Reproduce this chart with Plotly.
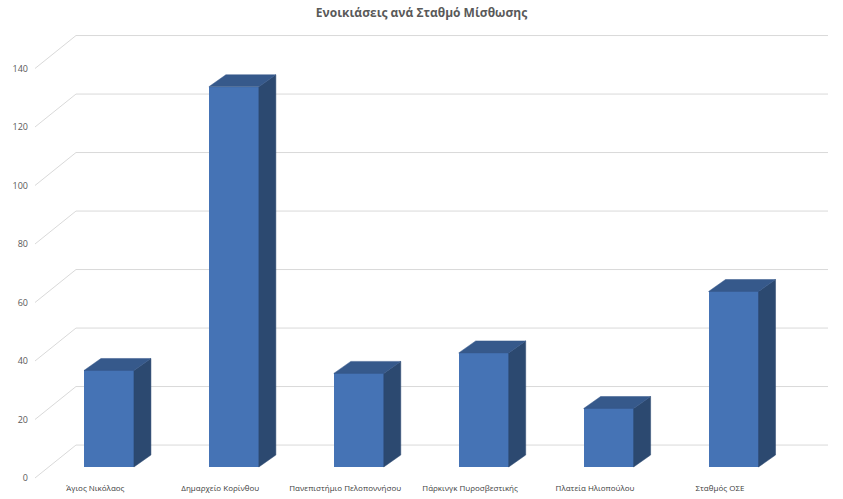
import plotly.graph_objects as go

# ---- data ----
categories = ["Άγιος Νικόλαος", "Δημαρχείο Κορίνθου", "Πανεπιστήμιο Πελοποννήσου",
              "Πάρκινγκ Πυροσβεστικής", "Πλατεία Ηλιοπούλου", "Σταθμός ΟΣΕ"]
rentals = [33, 130, 32, 39, 20, 60]
y_ticks = [0, 20, 40, 60, 80, 100, 120, 140]
y_tick_labels = [str(v) for v in y_ticks]

# ---- pseudo-3D geometry (style constants) ----
BAR_W = 0.4          # front face width (category units)
DEPTH_X = 0.136      # bar depth offset in x
DEPTH_Y = 4.1        # bar depth offset in value units
WALL_X = -0.264      # back wall left edge
WALL_DY = 7.5        # back wall vertical offset
FRONT_X = -0.592     # floor front-left corner x
FRONT_DY = -3.76     # floor front vertical offset
LABEL_SHIFT = -0.109 # category labels sit on the front edge
X_MAX = 5.756
Y_RANGE = [-5.13, 149.4]

FRONT_C = "#4573B5"
TOP_C = "#36598B"
SIDE_C = "#2C4970"
GRID_C = "#D9D9D9"
TEXT_C = "#595959"

xs = list(range(len(categories)))

fig = go.Figure()

# gridlines on the wall + diagonal to the front
shapes = []
for t in y_ticks:
    shapes.append(dict(type="path", layer="below", xref="x", yref="y",
                       path=f"M {FRONT_X},{t + FRONT_DY} L {WALL_X},{t + WALL_DY} L {X_MAX},{t + WALL_DY}",
                       line=dict(color=GRID_C, width=1)))

# front faces
fig.add_trace(go.Bar(x=xs, y=rentals, width=BAR_W, marker=dict(color=FRONT_C, line=dict(width=0)),
                     hoverinfo="skip", showlegend=False))

# side faces
sx, sy = [], []
for x, v in zip(xs, rentals):
    r = x + BAR_W / 2
    sx += [r, r + DEPTH_X, r + DEPTH_X, r, r, None]
    sy += [0, DEPTH_Y, v + DEPTH_Y, v, 0, None]
fig.add_trace(go.Scatter(x=sx, y=sy, fill="toself", fillcolor=SIDE_C, mode="lines",
                         line=dict(width=0.5, color=SIDE_C), hoverinfo="skip", showlegend=False))

# top faces
tx, ty = [], []
for x, v in zip(xs, rentals):
    l, r = x - BAR_W / 2, x + BAR_W / 2
    tx += [l, l + DEPTH_X, r + DEPTH_X, r, l, None]
    ty += [v, v + DEPTH_Y, v + DEPTH_Y, v, v, None]
fig.add_trace(go.Scatter(x=tx, y=ty, fill="toself", fillcolor=TOP_C, mode="lines",
                         line=dict(width=0.5, color=TOP_C), hoverinfo="skip", showlegend=False))

fig.update_layout(
    width=843, height=499,
    margin=dict(l=35, r=15, t=30, b=17),
    paper_bgcolor="white", plot_bgcolor="rgba(0,0,0,0)",
    shapes=shapes,
    font=dict(family="Open Sans", color=TEXT_C, size=9),
    title=dict(text="<b>Ενοικιάσεις ανά Σταθμό Μίσθωσης</b>", x=0.5, xanchor="center",
               y=1 - 13 / 499, yanchor="middle", yref="container",
               font=dict(family="Open Sans", size=12, color=TEXT_C)),
    xaxis=dict(range=[FRONT_X, X_MAX], tickmode="array",
               tickvals=[x + LABEL_SHIFT for x in xs], ticktext=categories,
               showgrid=False, zeroline=False, showline=False, ticks="",
               tickfont=dict(size=8, color="#404040"), automargin=False, fixedrange=True),
    yaxis=dict(range=Y_RANGE, tickmode="array",
               tickvals=[t + FRONT_DY for t in y_ticks], ticktext=y_tick_labels,
               showgrid=False, zeroline=False, showline=False, ticks="",
               ticklabelstandoff=6,
               tickfont=dict(size=9, color=TEXT_C), automargin=False, fixedrange=True),
    bargap=0,
)

fig.write_html("out.html", config={"displayModeBar": False},
               post_script="document.body.style.margin='0px';document.body.style.overflow='hidden';")
